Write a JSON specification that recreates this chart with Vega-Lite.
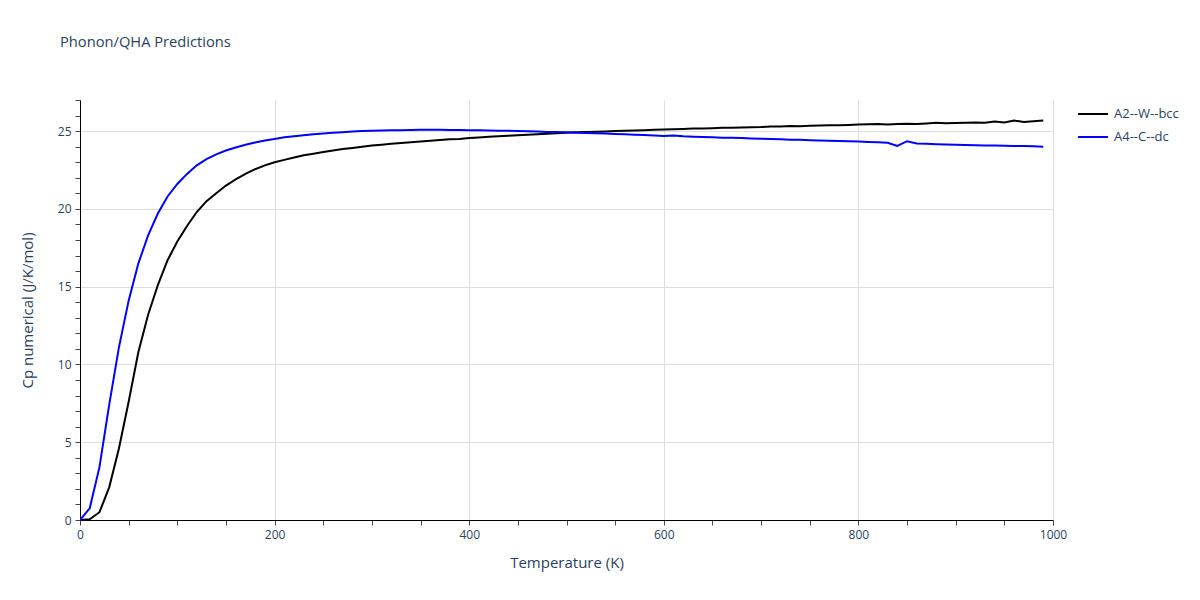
{
  "$schema": "https://vega.github.io/schema/vega-lite/v6.json",
  "autosize": {"type": "none"},
  "width": 973,
  "height": 420,
  "padding": {"left": 80, "top": 100, "right": 147, "bottom": 80},
  "background": "white",
  "title": {
    "text": "Phonon/QHA Predictions",
    "anchor": "start",
    "frame": "group",
    "dx": -20,
    "offset": 48,
    "font": "Open Sans",
    "fontSize": 14.7,
    "fontWeight": "normal",
    "color": "#2a3f5f"
  },
  "data": {
    "values": [
      {"T": 0, "A2--W--bcc": 0, "A4--C--dc": 0},
      {"T": 10, "A2--W--bcc": 0.05, "A4--C--dc": 0.75},
      {"T": 20, "A2--W--bcc": 0.5, "A4--C--dc": 3.4},
      {"T": 30, "A2--W--bcc": 2.1, "A4--C--dc": 7.4},
      {"T": 40, "A2--W--bcc": 4.6, "A4--C--dc": 11.1},
      {"T": 50, "A2--W--bcc": 7.6, "A4--C--dc": 14.1},
      {"T": 60, "A2--W--bcc": 10.8, "A4--C--dc": 16.5},
      {"T": 70, "A2--W--bcc": 13.2, "A4--C--dc": 18.3},
      {"T": 80, "A2--W--bcc": 15.1, "A4--C--dc": 19.7},
      {"T": 90, "A2--W--bcc": 16.7, "A4--C--dc": 20.8},
      {"T": 100, "A2--W--bcc": 17.9, "A4--C--dc": 21.6},
      {"T": 110, "A2--W--bcc": 18.9, "A4--C--dc": 22.25},
      {"T": 120, "A2--W--bcc": 19.8, "A4--C--dc": 22.8},
      {"T": 130, "A2--W--bcc": 20.5, "A4--C--dc": 23.2},
      {"T": 140, "A2--W--bcc": 21.0, "A4--C--dc": 23.5},
      {"T": 150, "A2--W--bcc": 21.5, "A4--C--dc": 23.75},
      {"T": 160, "A2--W--bcc": 21.9, "A4--C--dc": 23.95},
      {"T": 170, "A2--W--bcc": 22.25, "A4--C--dc": 24.12},
      {"T": 180, "A2--W--bcc": 22.55, "A4--C--dc": 24.27},
      {"T": 190, "A2--W--bcc": 22.8, "A4--C--dc": 24.4},
      {"T": 200, "A2--W--bcc": 23.0, "A4--C--dc": 24.5},
      {"T": 210, "A2--W--bcc": 23.15, "A4--C--dc": 24.6},
      {"T": 220, "A2--W--bcc": 23.3, "A4--C--dc": 24.67},
      {"T": 230, "A2--W--bcc": 23.45, "A4--C--dc": 24.74},
      {"T": 240, "A2--W--bcc": 23.55, "A4--C--dc": 24.8},
      {"T": 250, "A2--W--bcc": 23.65, "A4--C--dc": 24.85},
      {"T": 260, "A2--W--bcc": 23.75, "A4--C--dc": 24.89},
      {"T": 270, "A2--W--bcc": 23.85, "A4--C--dc": 24.93},
      {"T": 280, "A2--W--bcc": 23.92, "A4--C--dc": 24.97},
      {"T": 290, "A2--W--bcc": 24.0, "A4--C--dc": 25.0},
      {"T": 300, "A2--W--bcc": 24.07, "A4--C--dc": 25.02},
      {"T": 310, "A2--W--bcc": 24.13, "A4--C--dc": 25.04},
      {"T": 320, "A2--W--bcc": 24.18, "A4--C--dc": 25.05},
      {"T": 330, "A2--W--bcc": 24.23, "A4--C--dc": 25.06},
      {"T": 340, "A2--W--bcc": 24.28, "A4--C--dc": 25.07},
      {"T": 350, "A2--W--bcc": 24.33, "A4--C--dc": 25.08},
      {"T": 360, "A2--W--bcc": 24.38, "A4--C--dc": 25.08},
      {"T": 370, "A2--W--bcc": 24.43, "A4--C--dc": 25.08},
      {"T": 380, "A2--W--bcc": 24.47, "A4--C--dc": 25.07},
      {"T": 390, "A2--W--bcc": 24.5, "A4--C--dc": 25.07},
      {"T": 400, "A2--W--bcc": 24.55, "A4--C--dc": 25.06},
      {"T": 410, "A2--W--bcc": 24.59, "A4--C--dc": 25.05},
      {"T": 420, "A2--W--bcc": 24.63, "A4--C--dc": 25.04},
      {"T": 430, "A2--W--bcc": 24.67, "A4--C--dc": 25.03},
      {"T": 440, "A2--W--bcc": 24.7, "A4--C--dc": 25.02},
      {"T": 450, "A2--W--bcc": 24.74, "A4--C--dc": 25.0},
      {"T": 460, "A2--W--bcc": 24.77, "A4--C--dc": 24.99},
      {"T": 470, "A2--W--bcc": 24.8, "A4--C--dc": 24.97},
      {"T": 480, "A2--W--bcc": 24.83, "A4--C--dc": 24.95},
      {"T": 490, "A2--W--bcc": 24.86, "A4--C--dc": 24.94},
      {"T": 500, "A2--W--bcc": 24.89, "A4--C--dc": 24.92},
      {"T": 510, "A2--W--bcc": 24.92, "A4--C--dc": 24.9},
      {"T": 520, "A2--W--bcc": 24.94, "A4--C--dc": 24.88},
      {"T": 530, "A2--W--bcc": 24.96, "A4--C--dc": 24.86},
      {"T": 540, "A2--W--bcc": 24.98, "A4--C--dc": 24.84},
      {"T": 550, "A2--W--bcc": 25.0, "A4--C--dc": 24.82},
      {"T": 560, "A2--W--bcc": 25.02, "A4--C--dc": 24.8},
      {"T": 570, "A2--W--bcc": 25.04, "A4--C--dc": 24.77},
      {"T": 580, "A2--W--bcc": 25.06, "A4--C--dc": 24.75},
      {"T": 590, "A2--W--bcc": 25.08, "A4--C--dc": 24.72},
      {"T": 600, "A2--W--bcc": 25.1, "A4--C--dc": 24.68},
      {"T": 610, "A2--W--bcc": 25.12, "A4--C--dc": 24.72},
      {"T": 620, "A2--W--bcc": 25.14, "A4--C--dc": 24.67},
      {"T": 630, "A2--W--bcc": 25.16, "A4--C--dc": 24.64},
      {"T": 640, "A2--W--bcc": 25.17, "A4--C--dc": 24.62},
      {"T": 650, "A2--W--bcc": 25.19, "A4--C--dc": 24.6},
      {"T": 660, "A2--W--bcc": 25.21, "A4--C--dc": 24.58},
      {"T": 670, "A2--W--bcc": 25.22, "A4--C--dc": 24.57},
      {"T": 680, "A2--W--bcc": 25.24, "A4--C--dc": 24.55},
      {"T": 690, "A2--W--bcc": 25.25, "A4--C--dc": 24.53},
      {"T": 700, "A2--W--bcc": 25.26, "A4--C--dc": 24.51},
      {"T": 710, "A2--W--bcc": 25.3, "A4--C--dc": 24.49},
      {"T": 720, "A2--W--bcc": 25.29, "A4--C--dc": 24.47},
      {"T": 730, "A2--W--bcc": 25.33, "A4--C--dc": 24.45},
      {"T": 740, "A2--W--bcc": 25.32, "A4--C--dc": 24.44},
      {"T": 750, "A2--W--bcc": 25.34, "A4--C--dc": 24.42},
      {"T": 760, "A2--W--bcc": 25.36, "A4--C--dc": 24.4},
      {"T": 770, "A2--W--bcc": 25.37, "A4--C--dc": 24.38},
      {"T": 780, "A2--W--bcc": 25.38, "A4--C--dc": 24.37},
      {"T": 790, "A2--W--bcc": 25.4, "A4--C--dc": 24.35},
      {"T": 800, "A2--W--bcc": 25.42, "A4--C--dc": 24.33},
      {"T": 810, "A2--W--bcc": 25.44, "A4--C--dc": 24.3},
      {"T": 820, "A2--W--bcc": 25.45, "A4--C--dc": 24.28},
      {"T": 830, "A2--W--bcc": 25.43, "A4--C--dc": 24.25},
      {"T": 840, "A2--W--bcc": 25.46, "A4--C--dc": 24.05},
      {"T": 850, "A2--W--bcc": 25.48, "A4--C--dc": 24.35},
      {"T": 860, "A2--W--bcc": 25.45, "A4--C--dc": 24.2},
      {"T": 870, "A2--W--bcc": 25.49, "A4--C--dc": 24.18},
      {"T": 880, "A2--W--bcc": 25.53, "A4--C--dc": 24.16},
      {"T": 890, "A2--W--bcc": 25.5, "A4--C--dc": 24.14},
      {"T": 900, "A2--W--bcc": 25.52, "A4--C--dc": 24.12},
      {"T": 910, "A2--W--bcc": 25.53, "A4--C--dc": 24.1},
      {"T": 920, "A2--W--bcc": 25.55, "A4--C--dc": 24.09},
      {"T": 930, "A2--W--bcc": 25.54, "A4--C--dc": 24.08},
      {"T": 940, "A2--W--bcc": 25.62, "A4--C--dc": 24.07},
      {"T": 950, "A2--W--bcc": 25.55, "A4--C--dc": 24.06},
      {"T": 960, "A2--W--bcc": 25.68, "A4--C--dc": 24.05},
      {"T": 970, "A2--W--bcc": 25.58, "A4--C--dc": 24.04},
      {"T": 980, "A2--W--bcc": 25.64, "A4--C--dc": 24.02},
      {"T": 990, "A2--W--bcc": 25.68, "A4--C--dc": 24.0}
    ]
  },
  "transform": [
    {"fold": ["A2--W--bcc", "A4--C--dc"], "as": ["material", "cp"]}
  ],
  "mark": {"type": "line", "strokeWidth": 2, "clip": true},
  "encoding": {
    "x": {
      "field": "T",
      "type": "quantitative",
      "scale": {"domain": [0, 1000], "nice": false, "zero": false},
      "axis": {
        "title": "Temperature (K)",
        "format": "d",
        "values": [0, 50, 100, 150, 200, 250, 300, 350, 400, 450, 500, 550, 600, 650, 700, 750, 800, 850, 900, 950, 1000],
        "labelExpr": "datum.value % 200 === 0 ? datum.label : ''",
        "gridOpacity": {"condition": {"test": "datum.value % 200 === 0 && datum.value > 0", "value": 1}, "value": 0},
        "labelFlush": false,
        "titlePadding": 15
      }
    },
    "y": {
      "field": "cp",
      "type": "quantitative",
      "scale": {"domain": [0, 27], "nice": false},
      "axis": {
        "title": "Cp numerical (J/K/mol)",
        "values": [0, 1, 2, 3, 4, 5, 6, 7, 8, 9, 10, 11, 12, 13, 14, 15, 16, 17, 18, 19, 20, 21, 22, 23, 24, 25, 26, 27],
        "labelExpr": "datum.value % 5 === 0 ? datum.label : ''",
        "gridOpacity": {"condition": {"test": "datum.value % 5 === 0 && datum.value > 0", "value": 1}, "value": 0},
        "labelFlush": false,
        "titlePadding": 22
      }
    },
    "color": {
      "field": "material",
      "type": "nominal",
      "scale": {"domain": ["A2--W--bcc", "A4--C--dc"], "range": ["#000000", "#0000ff"]},
      "legend": {
        "title": null,
        "orient": "none",
        "legendX": 997,
        "legendY": -2,
        "symbolType": "stroke",
        "symbolSize": 900,
        "symbolStrokeWidth": 2,
        "rowPadding": -12,
        "labelOffset": 5,
        "padding": 0
      }
    }
  },
  "config": {
    "view": {"stroke": null},
    "font": "Open Sans",
    "axis": {
      "domainColor": "#000000",
      "domainWidth": 1,
      "tickColor": "#444444",
      "tickSize": 5,
      "gridColor": "#dddddd",
      "labelFont": "Open Sans",
      "labelFontSize": 12,
      "labelColor": "#2a3f5f",
      "labelPadding": 4,
      "titleFont": "Open Sans",
      "titleFontSize": 15,
      "titleFontWeight": "normal",
      "titleColor": "#2a3f5f"
    },
    "legend": {
      "labelFont": "Open Sans",
      "labelFontSize": 13,
      "labelColor": "#2a3f5f"
    }
  }
}
